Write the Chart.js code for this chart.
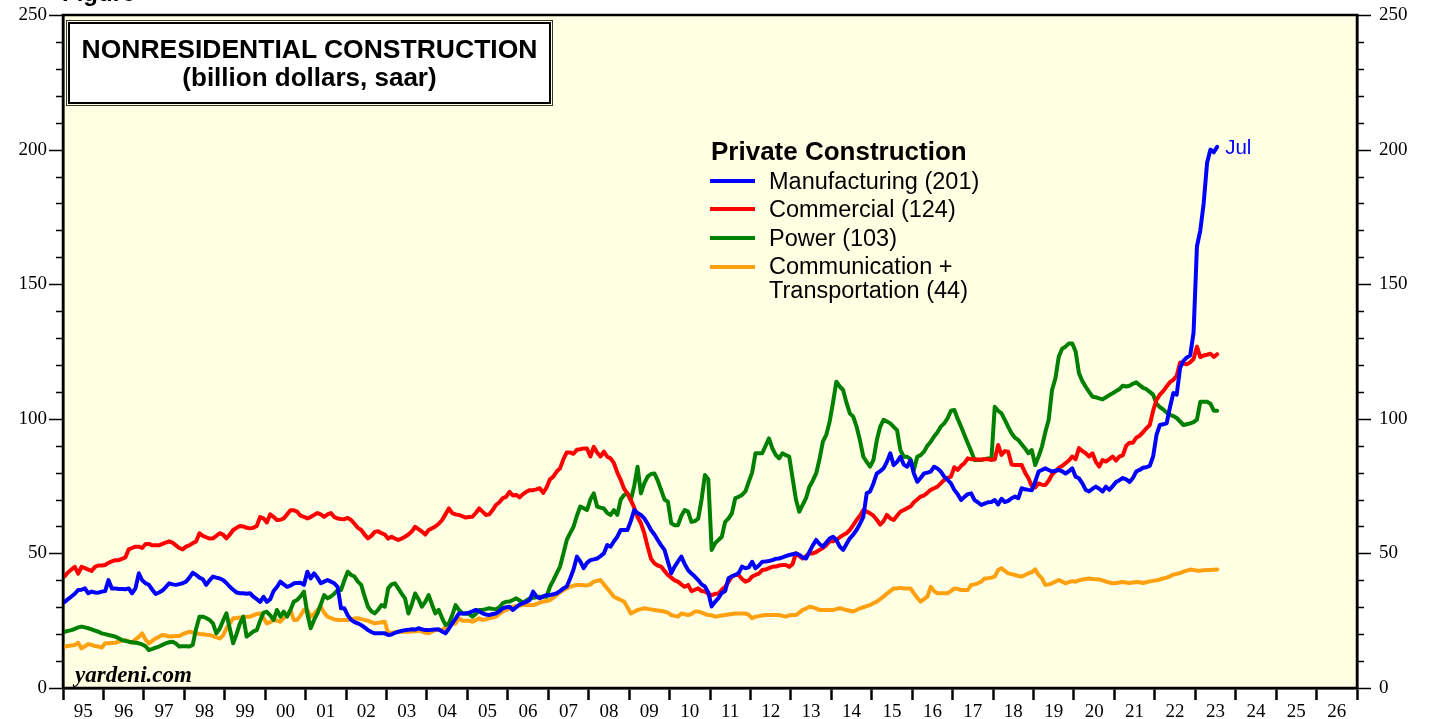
<!DOCTYPE html>
<html>
<head>
<meta charset="utf-8">
<script src="https://cdn.jsdelivr.net/npm/chart.js@4"></script>
<style>
  body { margin: 0; background: #fff; }
  #wrap { position: relative; width: 1431px; height: 719px; overflow: hidden; font-family: "Liberation Sans", Arial, sans-serif; }
  #chart { position: absolute; left: 0; top: 0; }
  .ov { position: absolute; white-space: nowrap; color: #000; }
  #fig { left: 62px; top: -19px; font: bold 24px/24px "Liberation Sans", Arial, sans-serif; }
  #titlebox { left: 68px; top: 22px; width: 479px; height: 78px; border: 2.5px solid #000; background: #fff;
    box-shadow: 0 0 0 1px #ffffe4, 0 0 0 2px #333;
    text-align: center; font-weight: bold; }
  #titlebox .l1 { font-size: 26.5px; line-height: 28px; margin-top: 11px; }
  #titlebox .l2 { font-size: 26px; line-height: 28px; }
  #legtitle { left: 711px; top: 136px; font: bold 26px/30px "Liberation Sans", Arial, sans-serif; }
  .sw { position: absolute; left: 710px; width: 45px; height: 4px; }
  .lt { position: absolute; left: 769px; font: 23.5px/26px "Liberation Sans", Arial, sans-serif; white-space: nowrap; }
  #yard { left: 75px; top: 661px; font: italic bold 23px/28px "Liberation Serif", "Times New Roman", serif; }
</style>
</head>
<body>
<div id="wrap">
  <canvas id="chart" width="1431" height="719"></canvas>
  <div class="ov" id="fig">Figure</div>
  <div class="ov" id="titlebox"><div class="l1">NONRESIDENTIAL CONSTRUCTION</div><div class="l2">(billion dollars, saar)</div></div>
  <div class="ov" id="legtitle">Private Construction</div>
  <div class="sw" style="top:179px;background:#0000ff"></div><div class="lt" style="top:168px">Manufacturing (201)</div>
  <div class="sw" style="top:207px;background:#ff0000"></div><div class="lt" style="top:196px">Commercial (124)</div>
  <div class="sw" style="top:236px;background:#008000"></div><div class="lt" style="top:225px">Power (103)</div>
  <div class="sw" style="top:265px;background:#ffa010"></div><div class="lt" style="top:254px;line-height:24px">Communication +<br>Transportation (44)</div>
  <div class="ov" id="yard">yardeni.com</div>
</div>
<script>
// monthly data, Jan 1995 .. Jul 2023 (billion dollars, saar)
const startYear = 1995;
const lastLabel = 'Jul';

const manufacturing = [
  32, 33, 34, 35, 36.4, 36.5, 37, 35.2, 35.8, 35.5, 35.4, 35.8,
  36, 40.1, 37, 37, 36.8, 36.8, 36.7, 37, 35.2, 37, 42.6, 40,
  38.9, 38.3, 36.5, 34.9, 35.5, 36.2, 37.5, 38.9, 38.5, 38.3, 38.6, 38.9,
  39.5, 41, 42.8, 42, 41, 40.4, 38.3, 40, 41.4, 41, 40.7, 40.1,
  39, 37.6, 36.5, 35.5, 35.2, 35.2, 35, 35.2, 33.9, 33, 32, 33.9,
  32, 33, 36, 37.5, 39.5, 38.5, 37.6, 38, 38.9, 39, 39.1, 38.3,
  43.2, 40.7, 42.6, 41, 38.9, 39.5, 40.1, 39.5, 38.9, 37.6, 29.6, 29.6,
  27, 25.3, 24.5, 24, 23.4, 22.5, 21.5, 20.8, 20.3, 20.3, 20.3, 20.3,
  19.7, 19.9, 20.5, 20.9, 21.2, 21.5, 21.6, 21.8, 21.7, 22.2, 21.8, 21.5,
  21.5, 21.6, 21.7, 21.8, 21, 20.3, 22, 24, 25.8, 27.7, 27.7, 27.7,
  28, 28.5, 29, 28.5, 27.7, 27.3, 27.1, 27.5, 27.7, 28.5, 29.6, 30,
  30.2, 29, 30, 31, 31.5, 32, 32.7, 35.8, 34, 33.3, 34, 34.5,
  34.5, 34.8, 35.2, 36, 37, 37.7, 40.7, 44, 48.8, 47, 44.5, 46.5,
  47.5, 47.8, 48.1, 49, 50, 53.1, 52.5, 54.5, 56.2, 58.7, 58.7, 58.7,
  62, 66.1, 65, 64.3, 63, 61, 58.7, 57, 55, 53, 51.3, 47,
  42.6, 45.1, 47, 48.8, 46, 43.8, 42.5, 41.4, 40.1, 38.5, 37.7, 35.5,
  30.3, 32, 33.4, 35.3, 36, 40.8, 41.5, 42, 42.7, 45.1, 44.5, 44.8,
  46.9, 44.5, 45.5, 46.9, 47, 47.2, 47.5, 48, 48.1, 48.5, 49, 49.4,
  49.7, 50, 49.5, 48.5, 48.1, 50.6, 53, 55, 53.5, 52.5, 54, 55.5,
  56.2, 55, 52.5, 51.3, 53.5, 55.6, 57, 58.7, 61, 63.6, 72.3, 73,
  76, 79.7, 80.5, 81.6, 84, 87.2, 82.8, 84, 85.9, 83, 82.2, 84.5,
  79.7, 76.6, 78, 79.7, 80, 80.4, 82.2, 81.5, 80.4, 78.5, 77.3, 76,
  73.6, 72, 69.8, 71, 72, 72.3, 69.8, 69, 68, 68.5, 69, 69.1,
  69.8, 68.2, 70.3, 69.1, 69.5, 70.5, 71.1, 70.5, 74.2, 73.8, 73.6, 73.5,
  76.6, 80.4, 81, 81.6, 81, 80.4, 80.7, 81, 80.5, 79.7, 80.5, 81.6,
  78.5, 77.9, 76, 73.6, 73, 74, 74.8, 74, 73, 74.8, 73.6, 75,
  76.5, 77.2, 78, 77.5, 76.5, 78, 80.5, 81, 81.8, 82, 82.5, 86,
  94, 97.7, 98, 98.3, 104.3, 109.6, 109, 118.9, 121.5, 122.8, 123.5, 132,
  164, 170, 180, 195, 200, 199, 201
];

const commercial = [
  41.5, 43, 44, 45, 42.5, 45, 44.5, 44, 43.5, 45, 45.5, 45.5,
  45.7, 46.5, 47, 47.5, 47.5, 48, 48.5, 51.5, 52, 52.5, 52.5, 52,
  53.5, 53.5, 53, 53, 53, 53.5, 54, 54.5, 54, 53, 52, 51.5,
  52.5, 53, 53.8, 54.4, 57.5, 56.5, 56, 55.5, 55.6, 56.5, 57.5, 57,
  55.6, 57, 58.7, 59.5, 60.2, 60, 59.5, 59.3, 59.5, 60.2, 63.5, 63,
  61.5, 64.5, 63.5, 62.4, 62.5, 63, 64.5, 66, 66, 65.5, 64, 63.6,
  63, 63.5, 64.3, 65, 64.5, 63.6, 64.5, 65, 63.5, 63, 62.8, 62.7,
  63.2, 62.4, 61, 59.5, 58.7, 57, 55.6, 56.5, 58, 58.2, 57.5, 57,
  55.5, 56.2, 55.5, 55, 55.5, 56.2, 57, 58.1, 59.9, 59, 58.1, 57,
  58.7, 59.3, 60, 61, 62.4, 64.5, 66.7, 65, 64.5, 64.3, 63.8, 63.3,
  63.5, 63.6, 65, 66.7, 65.5, 64.3, 64.5, 66.1, 68, 69, 70.5, 71,
  72.9, 71.5, 71.7, 70.8, 72, 72.9, 73.5, 73.5, 73.8, 74.2, 72.5, 74.5,
  77.5, 78.5, 80.4, 81.6, 85, 87.5, 87.5, 87, 88.5, 88.7, 89, 89,
  86, 89.6, 87.5, 86, 87.8, 85.9, 85.3, 83.5, 80, 77.3, 74, 72.3,
  69.8, 67, 63.5, 61.2, 57.5, 52.5, 48, 46.3, 45.5, 45.1, 43.5, 42,
  41, 40, 39.5, 38.5, 37.6, 38.3, 36, 36.5, 37, 36, 35.8, 35,
  34.5, 35, 35.1, 36.5, 37.6, 39.5, 41.4, 42, 42, 40.5, 39.5, 40,
  41.4, 42, 42.5, 43.8, 44, 44.5, 45, 45.1, 45.5, 45.7, 45.7, 45,
  46, 50, 49, 48.1, 49, 50, 50, 50.5, 51.3, 52, 53, 54.5,
  54.5, 55, 56, 56.8, 57.5, 58.7, 60.5, 62.4, 64, 66.1, 65.5, 64.9,
  64, 62.5, 60.7, 62, 64.3, 63, 62.4, 64, 65.5, 66.1, 66.8, 67.4,
  69, 70, 71.1, 71.5, 72.5, 73.6, 74.2, 74.8, 76, 77.3, 78, 78.5,
  82, 81, 82.5, 83.5, 85.3, 85, 85, 84.9, 84.9, 85, 85, 84.8,
  84.9, 90.3, 86.6, 88, 87.8, 83, 82.8, 82.8, 82.8, 80, 77.9, 75,
  74.5, 76, 75.5, 75.4, 77, 79.3, 80.5, 81.8, 82.5, 83.5, 84.5, 86,
  85, 89.1, 88, 87.2, 86, 87.2, 84, 82.2, 84.7, 84.1, 85, 86,
  84.5, 86, 86.4, 90, 91.1, 91.1, 93, 93.7, 95, 96.5, 97.7, 103,
  107, 109, 110.3, 112, 113.6, 114.5, 116, 120.9, 120.5, 120.3, 121, 122.2,
  126.8, 122.9, 123.5, 123.8, 124.2, 123, 124
];

const power = [
  20.9, 21.2, 21.5, 22, 22.5, 22.8, 22.5, 22.2, 21.8, 21.3, 20.9, 20.3,
  20, 19.7, 19.4, 19.1, 18.5, 17.8, 17.5, 17.2, 17, 16.8, 16.6, 16.2,
  15.5, 14.1, 14.5, 15, 15.4, 16, 16.6, 17, 17.2, 16.5, 15.4, 15.5,
  15.5, 15.4, 16, 22, 26.5, 26.5, 26, 25.3, 24, 20.3, 22, 25,
  27.7, 22, 16.6, 20, 24, 26.5, 19.1, 20, 21, 21.5, 25, 28,
  28.3, 27, 25.3, 29, 26.5, 28.4, 26.5, 29, 32.1, 32.7, 34, 35.8,
  27.7, 22.2, 25.3, 27.7, 31, 34.5, 33.3, 34, 35, 36.4, 36.4, 40,
  43.2, 42, 41.4, 39.5, 38.3, 34, 30.2, 28.5, 27.7, 29, 30.8, 30.2,
  37, 38.5, 38.9, 37, 35, 33.3, 27.7, 31, 35.1, 33, 30.2, 32,
  34.5, 31, 27.7, 29, 26, 23.4, 24, 27, 30.8, 29, 27.7, 27.7,
  27.5, 26.5, 27.5, 29, 29, 29.3, 29.6, 29.4, 29.2, 30, 31.5, 32,
  32.1, 32.7, 33.3, 32.5, 31.7, 32.5, 33.3, 33.5, 33.7, 33.9, 33.9, 33.9,
  37.6, 40, 42.6, 45.1, 50, 55, 57.5, 59.9, 64, 67.4, 66.8, 66.1,
  70, 72.3, 67.4, 67, 66.7, 65, 64.3, 66.1, 64.3, 70, 71.7, 72.3,
  69.8, 75, 82.2, 72.3, 76, 78.5, 79.5, 79.7, 77, 73.6, 70, 69.2,
  61.2, 60.5, 60.5, 64, 66.1, 65.5, 61.7, 62, 62.9, 70, 79.1, 77.5,
  51.3, 53.7, 55, 56.2, 61.7, 63, 64.9, 70.5, 71, 71.7, 73, 76.6,
  80, 87.2, 87.2, 87.2, 90, 92.7, 89, 86.6, 85.3, 87.2, 86.5, 86,
  78, 70, 65.5, 68, 70.5, 74.8, 77, 79.7, 85, 91.5, 94, 98.9,
  106, 113.8, 112, 110.7, 106, 102, 100.8, 97.1, 92, 85.9, 84, 82.2,
  84.7, 92, 97.1, 99.6, 99, 98.3, 97, 95.8, 88.4, 85.9, 85.9, 85,
  81, 85.9, 86.5, 87.8, 90, 91.5, 93.4, 95, 97.1, 98.3, 100.2, 103,
  103.3, 100, 97.1, 94, 90.9, 88, 84.7, 84.7, 84.7, 85, 85.3, 84.7,
  104.5, 103, 102, 99.6, 97, 94.6, 93, 92.1, 90.5, 89, 87.2, 88.4,
  82.8, 86, 89.6, 95, 99.6, 110.7, 115, 123.1, 126, 126.8, 128, 128,
  125, 116.9, 114, 111.9, 110, 108.2, 108, 107.6, 107.2, 108, 108.8, 109.5,
  110.3, 111, 112.3, 112, 112.3, 113, 113.6, 112.5, 111.5, 111, 110, 109,
  105.6, 104.3, 103.5, 102.3, 101.5, 101, 100.3, 99, 97.7, 98, 98.3, 98.8,
  99.7, 106.3, 106.3, 106.3, 105.6, 103, 103
];

const commTransport = [
  15.4, 15.6, 15.8, 16, 16.8, 14.7, 15.5, 16.3, 16, 15.6, 15.4, 15,
  16.6, 16.6, 16.7, 16.8, 17.2, 17.5, 17.8, 17.3, 16.8, 18, 19, 20.3,
  18, 16.6, 17.5, 18.4, 19, 19.7, 19.5, 19.1, 19.2, 19.3, 19.3, 20,
  20.5, 20.9, 20.6, 20.3, 20.1, 20, 19.8, 19.7, 19.3, 18.8, 18.4, 19.5,
  22.2, 24, 25.9, 26, 26.2, 26.3, 26.5, 26.5, 27, 27.5, 27.7, 26,
  24, 24.5, 25.3, 25, 24.6, 26, 27, 29, 25.3, 25.3, 27, 29,
  29, 26.5, 27.5, 29, 30.2, 28, 26.5, 26, 25.5, 25.3, 25.3, 25.3,
  25.3, 25.5, 25.8, 25.9, 25.6, 25.3, 25, 24.5, 24, 24.2, 24.4, 24.6,
  20.3, 20.5, 20.7, 20.9, 20.9, 20.9, 20.9, 21, 21.1, 21.3, 21, 20.5,
  20.3, 21, 21.5, 21.5, 21.5, 22.5, 23.4, 23.7, 24, 25.9, 25, 25,
  25, 24.6, 25.2, 25.9, 25.3, 25.5, 25.9, 26.2, 26.5, 27.5, 28.4, 29,
  29.5, 30.2, 30.5, 30.6, 30.8, 30.8, 30.8, 30.8, 31.2, 31.7, 32.1, 32.3,
  32.7, 33.5, 34.6, 35.5, 36.4, 37, 37.6, 38, 38.3, 38.3, 38.2, 38.1,
  38.5, 39.5, 39.8, 40.1, 38.5, 37, 35.5, 33.9, 33.3, 32.7, 32.1, 30,
  27.7, 28.3, 29, 29.3, 29.6, 29.4, 29.2, 29, 28.8, 28.6, 28.4, 28,
  27.1, 26.8, 26.5, 27.7, 27.4, 27.1, 27.5, 28.4, 28.4, 28, 27.5, 27.1,
  27, 26.5, 26.7, 26.9, 27.1, 27.3, 27.5, 27.7, 27.7, 27.7, 27.7, 27.2,
  25.9, 26.5, 26.7, 26.9, 27.1, 27.1, 27.1, 27.1, 27.1, 26.8, 26.5, 27,
  27.1, 27.1, 28, 29, 29.5, 30.2, 30, 29.5, 29, 29, 29, 29,
  29, 29.3, 29.6, 29.3, 29, 28.7, 28.4, 29, 29.6, 30, 30.4, 30.8,
  31.5, 32.1, 33, 33.9, 35.1, 36, 37, 37, 37.2, 37, 37, 37,
  35.2, 33.5, 32.1, 33, 33.9, 37.6, 36, 35.2, 35.2, 35.2, 35.2, 36,
  37, 36.8, 36.4, 36.4, 36.4, 38.3, 38.5, 38.9, 39.5, 40.7, 40.8, 41,
  41.4, 43.8, 44.5, 43.5, 42.6, 42.3, 42, 41.6, 41.4, 42, 42.6, 43,
  44.1, 42, 40.7, 38.3, 38.5, 38.9, 39.5, 40.1, 39.5, 38.9, 39.3, 39.7,
  39.5, 40, 40.3, 40.5, 40.7, 40.5, 40.4, 40.3, 40, 39.5, 39.2, 38.9,
  39, 39.2, 39.4, 39.2, 39, 39.2, 39.4, 39.3, 39, 39.3, 39.6, 39.8,
  40, 40.3, 40.7, 41, 41.5, 42.1, 42.4, 42.7, 43.2, 43.6, 44, 43.8,
  43.6, 43.6, 43.7, 43.8, 43.8, 43.9, 44
];

// axis ranges / ticks
const yearMin = 1995, yearMax = 2027;
const yMin = 0, yMax = 250, yStep = 10, yLabelStep = 50;

function toPoints(arr) {
  return arr.map((v, i) => ({ x: startYear + (i + 0.5) / 12, y: v }));
}

const serif = { family: '"Liberation Serif", "Times New Roman", serif', size: 19 };

const frame = {
  id: 'frame',
  beforeDraw(chart) {
    const { ctx, chartArea: a } = chart;
    ctx.save();
    ctx.fillStyle = '#ffffff';
    ctx.fillRect(0, 0, chart.width, chart.height);
    ctx.fillStyle = '#ffffe4';
    ctx.fillRect(a.left, a.top, a.right - a.left, a.bottom - a.top);
    ctx.restore();
  },
  afterDraw(chart) {
    const { ctx, chartArea: a } = chart;
    const ys = chart.scales.y;
    ctx.save();
    ctx.strokeStyle = '#000';
    ctx.lineWidth = 2.5;
    ctx.strokeRect(a.left, a.top, a.right - a.left, a.bottom - a.top);
    ctx.lineWidth = 1.5;
    for (let v = yMin; v <= yMax; v += yStep) {
      const py = Math.round(ys.getPixelForValue(v)) + 0.5;
      const len = v % yLabelStep === 0 ? 14 : 7;
      ctx.beginPath();
      ctx.moveTo(a.left - len, py); ctx.lineTo(a.left, py);
      ctx.moveTo(a.right, py); ctx.lineTo(a.right + len, py);
      ctx.stroke();
    }
    // "Jul" next to last manufacturing point
    const meta = chart.getDatasetMeta(0);
    const p = meta.data[meta.data.length - 1];
    ctx.fillStyle = '#0000ff';
    ctx.font = '20.5px "Liberation Sans", Arial, sans-serif';
    ctx.textBaseline = 'middle';
    ctx.fillText(lastLabel, p.x + 8, p.y + 1);
    ctx.restore();
  }
};

// tick marks are drawn by the frame plugin; transparent chart.js ticks only set label offset
const yAxis = (pos, w, gap) => ({
  type: 'linear', position: pos, min: yMin, max: yMax,
  afterBuildTicks: s => {
    const t = [];
    for (let v = yMin; v <= yMax; v += yStep) t.push({ value: v });
    s.ticks = t;
  },
  afterFit: s => { s.width = w; },
  grid: { drawOnChartArea: false, drawTicks: true, tickLength: gap, tickColor: 'rgba(0,0,0,0)' },
  border: { display: true, color: '#000', width: 2.5 },
  ticks: {
    padding: 2,
    color: '#000', font: serif, autoSkip: false,
    callback: v => (v % yLabelStep === 0 ? String(v) : '')
  }
});

new Chart(document.getElementById('chart'), {
  type: 'line',
  data: {
    datasets: [
      { label: 'Manufacturing (201)', data: toPoints(manufacturing), borderColor: '#0000ff' },
      { label: 'Commercial (124)', data: toPoints(commercial), borderColor: '#ff0000' },
      { label: 'Power (103)', data: toPoints(power), borderColor: '#008000' },
      { label: 'Communication + Transportation (44)', data: toPoints(commTransport), borderColor: '#ffa010' }
    ]
  },
  options: {
    responsive: false,
    devicePixelRatio: 1,
    animation: false,
    layout: { padding: { top: 15, left: 0, right: 0, bottom: 0 } },
    elements: {
      line: { borderWidth: 4, tension: 0, borderJoinStyle: 'round', borderCapStyle: 'round', fill: false },
      point: { radius: 0 }
    },
    plugins: { legend: { display: false }, tooltip: { enabled: false } },
    scales: {
      x: {
        type: 'linear', min: yearMin, max: yearMax,
        afterBuildTicks: s => {
          const t = [];
          for (let v = yearMin; v <= yearMax; v += 0.5) t.push({ value: v });
          s.ticks = t;
        },
        afterFit: s => { s.height = 31; },
        grid: {
          drawOnChartArea: false, tickLength: 12, tickWidth: 2.5,
          tickColor: c => (c.tick && c.tick.value % 1 === 0 ? '#000' : 'rgba(0,0,0,0)')
        },
        border: { display: true, color: '#000', width: 2.5 },
        ticks: {
          autoSkip: false, maxRotation: 0, padding: 1, color: '#000', font: serif,
          callback: v => (v % 1 === 0.5 ? String(Math.floor(v) % 100).padStart(2, '0') : '')
        }
      },
      y: yAxis('left', 63, 14),
      y2: yAxis('right', 74, 20)
    }
  },
  plugins: [frame]
});
</script>
</body>
</html>
